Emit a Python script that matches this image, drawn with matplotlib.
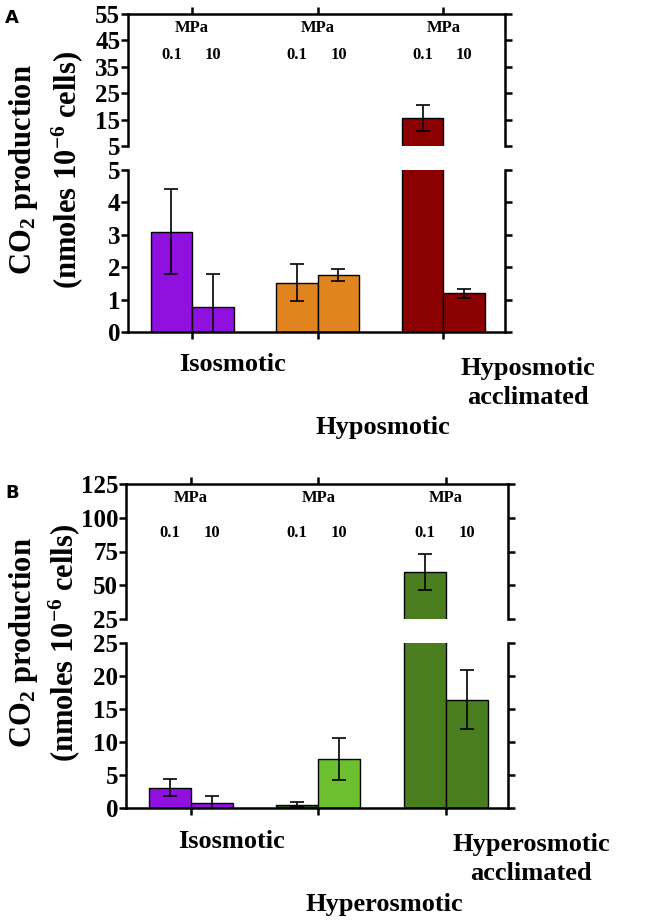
import numpy as np
import matplotlib
matplotlib.use("Agg")
import matplotlib.pyplot as plt

plt.rcParams['font.family'] = ['Liberation Serif', 'DejaVu Serif']
plt.rcParams['font.weight'] = 'bold'
plt.rcParams['mathtext.fontset'] = 'custom'
plt.rcParams['mathtext.rm'] = 'Liberation Serif:bold'
plt.rcParams['mathtext.it'] = 'Liberation Serif:bold'
plt.rcParams['mathtext.bf'] = 'Liberation Serif:bold'

# %% data
pressures = ['0.1', '10']

cats_a = ['Isosmotic', 'Hyposmotic', 'Hyposmotic\nacclimated']
mean_a_01 = [3.1, 1.52, 15.6]
err_a_01 = [1.3, 0.57, 4.8]
mean_a_10 = [0.78, 1.75, 1.19]
err_a_10 = [1.0, 0.18, 0.13]
col_a_01 = ['#9010E0', '#E08420', '#8B0000']
col_a_10 = ['#9010E0', '#E08420', '#8B0000']
yticks_a_top = [5, 15, 25, 35, 45, 55]
yticks_a_bot = [0, 1, 2, 3, 4, 5]

cats_b = ['Isosmotic', 'Hyperosmotic', 'Hyperosmotic\nacclimated']
mean_b_01 = [3.05, 0.5, 59.7]
err_b_01 = [1.3, 0.35, 13.4]
mean_b_10 = [0.78, 7.45, 16.4]
err_b_10 = [1.0, 3.2, 4.45]
col_b_01 = ['#9010E0', '#2E5A1C', '#4A7D1E']
col_b_10 = ['#9010E0', '#6CBF2F', '#4A7D1E']
yticks_b_top = [25, 50, 75, 100, 125]
yticks_b_bot = [0, 5, 10, 15, 20, 25]

# %% layout helpers
W, H = 666, 924
fig = plt.figure(figsize=(W / 100, H / 100), dpi=100)

def add_ax(left, right, top, bottom):
    return fig.add_axes([left / W, 1 - bottom / H, (right - left) / W, (bottom - top) / H])

x = np.arange(3)
bw = 0.33
label_x = [0.32, 1.52, 2.67]
label_off = [33, 96, 51]

def style(ax, ticks, is_top):
    for s in ['left', 'right']:
        ax.spines[s].set_linewidth(1.8)
    ax.spines['bottom'].set_visible(not is_top)
    ax.spines['top'].set_visible(is_top)
    ax.spines['top' if is_top else 'bottom'].set_linewidth(1.8)
    ax.set_yticks(ticks)
    ax.set_ylim(ticks[0], ticks[-1])
    ax.set_xlim(-0.51, 2.49)
    ax.set_xticks(x)
    ax.tick_params(axis='y', which='both', direction='out', length=5, width=1.8,
                   left=True, right=True, labelleft=True, labelright=False,
                   labelsize=18, pad=0.5)
    ax.tick_params(axis='x', direction='out', length=5, width=1.8,
                   top=is_top, bottom=not is_top, labeltop=False, labelbottom=False)
    for lab in ax.get_yticklabels():
        lab.set_fontweight('bold')

def draw_bars(ax, m1, e1, c1, m2, e2, c2):
    ax.bar(x - bw / 2, m1, bw, color=c1, edgecolor='black', linewidth=1)
    ax.bar(x + bw / 2, m2, bw, color=c2, edgecolor='black', linewidth=1)
    ax.errorbar(x - bw / 2, m1, yerr=e1, fmt='none', ecolor='black', elinewidth=1.2,
                capsize=5, capthick=1.2)
    ax.errorbar(x + bw / 2, m2, yerr=e2, fmt='none', ecolor='black', elinewidth=1.2,
                capsize=5, capthick=1.2)

def panel(letter, box_top, box_bot, left, right, ticks_top, ticks_bot,
          m1, e1, c1, m2, e2, c2, cats, mpa_y, p_y, ylab_y, ylab_x, letter_y):
    ax_t = add_ax(left, right, *box_top)
    ax_b = add_ax(left, right, *box_bot)
    for ax, ticks, is_top in [(ax_t, ticks_top, True), (ax_b, ticks_bot, False)]:
        draw_bars(ax, m1, e1, c1, m2, e2, c2)
        style(ax, ticks, is_top)
    for i in x:
        ax_t.text(i, mpa_y, 'MPa', transform=ax_t.get_xaxis_transform(),
                  ha='center', va='center', fontsize=12, fontweight='bold')
        ax_t.text(i - bw / 2, p_y, pressures[0], transform=ax_t.get_xaxis_transform(),
                  ha='center', va='center', fontsize=12, fontweight='bold')
        ax_t.text(i + bw / 2, p_y, pressures[1], transform=ax_t.get_xaxis_transform(),
                  ha='center', va='center', fontsize=12, fontweight='bold')
    for lx, off, name in zip(label_x, label_off, cats):
        ax_b.annotate(name, xy=(lx, 0), xycoords=('data', 'axes fraction'),
                      xytext=(0, -off * 0.72), textcoords='offset points',
                      ha='center', va='center', fontsize=19, fontweight='bold',
                      linespacing=1.3, annotation_clip=False)
    fig.text(ylab_x[0] / W, 1 - ylab_y / H, 'CO$_2$ production', rotation=90,
             ha='center', va='center', fontsize=22, fontweight='bold')
    fig.text(ylab_x[1] / W, 1 - ylab_y / H, '(nmoles 10$^{-6}$ cells)', rotation=90,
             ha='center', va='center', fontsize=22, fontweight='bold')
    fig.text(12 / W, 1 - letter_y / H, letter, ha='center', va='center',
             fontsize=13, fontweight='bold', family='DejaVu Sans')

panel('A', (14, 146), (170, 332), 128, 505, yticks_a_top, yticks_a_bot,
      mean_a_01, err_a_01, col_a_01, mean_a_10, err_a_10, col_a_10, cats_a,
      0.894, 0.69, 170, (24, 67), 18)
panel('B', (484, 619), (643, 808), 126, 508, yticks_b_top, yticks_b_bot,
      mean_b_01, err_b_01, col_b_01, mean_b_10, err_b_10, col_b_10, cats_b,
      0.896, 0.637, 643, (24, 64), 493)

fig.savefig('out.png', dpi=100)
